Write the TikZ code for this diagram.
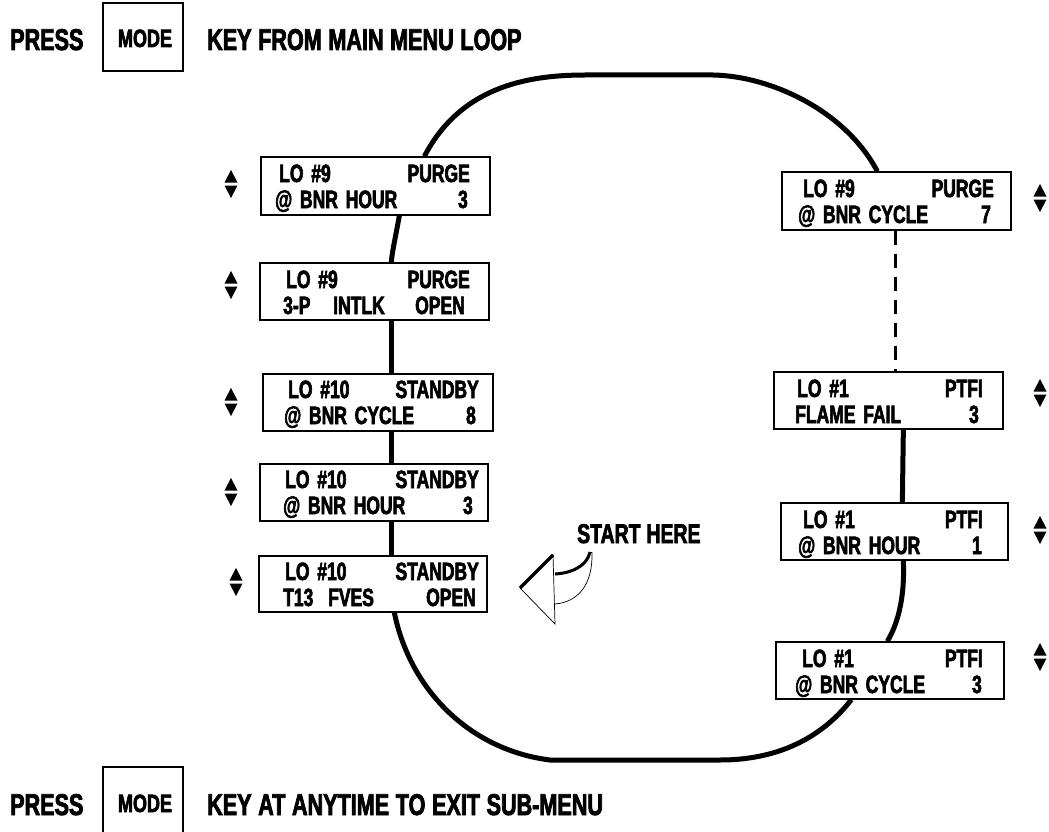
\documentclass[tikz,border=0pt]{standalone}
\usepackage{fontspec}
\setmainfont{Liberation Sans}[FakeStretch=0.72, FakeBold=2.5, WordSpace=1.1]
\newfontfamily\boxfont{Liberation Sans}[FakeStretch=0.70, FakeBold=2.5, WordSpace=1.6]
\begin{document}
\begin{tikzpicture}[x=1pt,y=-1pt,
  lcd/.style 2 args={draw, fill=white, line width=1.3, inner sep=0, minimum width=#1, minimum height=#2},
  keybox/.style={draw, line width=2, inner sep=0, minimum width=80, minimum height=68},
  txt/.style={inner sep=0, font=\boxfont\fontsize{25}{25}\selectfont\bfseries},
  head/.style={inner sep=0, font=\fontsize{30}{30}\selectfont\bfseries},
  keytxt/.style={inner sep=0, font=\fontsize{25}{25}\selectfont\bfseries},
  loop/.style={line width=5},
  dashloop/.style={line width=3, dash pattern=on 14 off 9},
  updown/.pic={\fill (-6.5,-1.5) -- (6.5,-1.5) -- (0,-14) -- cycle;
               \fill (-6.5,1.5) -- (6.5,1.5) -- (0,14) -- cycle;}
]
\useasboundingbox (0,0) rectangle (1049,832);
\clip (0,0) rectangle (1049,832);

% ---------- header / footer ----------
\node[head, anchor=base west] (p1) at (10,50) {PRESS};
\node[keybox] (m1) at (143,37) {};
\node[keytxt, anchor=base] (m1t) at (145,47) {MODE};
\node[head, anchor=base west] (k1) at (207,50) {KEY FROM MAIN MENU LOOP};

\node[head, anchor=base west] (p2) at (10,815) {PRESS};
\node[keybox, minimum height=80] (m2) at (143,807) {};
\node[keytxt, anchor=base] (m2t) at (145,812) {MODE};
\node[head, anchor=base west] (k2) at (207,815) {KEY AT ANYTIME TO EXIT SUB-MENU};

% ---------- boxes ----------
\node[lcd={229}{58}] (b1) at (375.5,186) {};
\node[lcd={229}{57}] (b2) at (374.5,291.5) {};
\node[lcd={230}{57}] (b3) at (378,402.5) {};
\node[lcd={228}{57}] (b4) at (374,492.5) {};
\node[lcd={228}{56}] (b5) at (373,584) {};
\node[lcd={229}{58}] (r1) at (896.5,201) {};
\node[lcd={229}{57}] (r2) at (888.5,400.5) {};
\node[lcd={227}{57}] (r3) at (894.5,531.5) {};
\node[lcd={228}{57}] (r4) at (890,670.5) {};

% ---------- loop connectors ----------
\draw[loop] ([xshift=164]b1.north west) .. controls (460,88) and (525,75) .. (585,75)
   -- (713,75) .. controls (770,76) and (845,110) .. ([xshift=96]r1.north west);
\draw[dashloop] ([xshift=114]r1.south west) -- ([xshift=122]r2.north west);
\draw[loop] ([xshift=130]r2.south west) -- ([xshift=122]r3.north west);
\draw[loop] ([xshift=123]r3.south west) .. controls (905,600) and (897,625) .. ([xshift=112]r4.north west);
\draw[loop] ([xshift=76]r4.south west) .. controls (820,740) and (775,760) .. (720,760)
   -- (550,760) .. controls (470,750) and (410,690) .. ([xshift=136]b5.south west);
\draw[loop] ([xshift=133]b5.north west) -- ([xshift=132]b4.south west);
\draw[loop] ([xshift=132]b4.north west) -- ([xshift=129]b3.south west);
\draw[loop] ([xshift=129]b3.north west) -- ([xshift=132]b2.south west);
\draw[loop] ([xshift=132]b2.north west) .. controls (392,252) and (395,240) .. ([xshift=139]b1.south west);

% ---------- box texts ----------
\node[txt, anchor=base west] (b1a) at (279,182) {LO \#9};
\node[txt, anchor=base east] (b1b) at (470,182) {PURGE};
\node[txt, anchor=base west] (b1c) at (275,208) {@ BNR HOUR};
\node[txt, anchor=base east] (b1d) at (468,208) {3};

\node[txt, anchor=base west] (b2a) at (286,288) {LO \#9};
\node[txt, anchor=base east] (b2b) at (470,288) {PURGE};
\node[txt, anchor=base west] (b2c) at (283,314) {3-P};
\node[txt, anchor=base west] (b2d) at (333,314) {INTLK};
\node[txt, anchor=base east] (b2e) at (465,314) {OPEN};

\node[txt, anchor=base west] (b3a) at (288,398) {LO \#10};
\node[txt, anchor=base east] (b3b) at (479,398) {STANDBY};
\node[txt, anchor=base west] (b3c) at (284,424) {@ BNR CYCLE};
\node[txt, anchor=base east] (b3d) at (476,424) {8};

\node[txt, anchor=base west] (b4a) at (285,488) {LO \#10};
\node[txt, anchor=base east] (b4b) at (479,488) {STANDBY};
\node[txt, anchor=base west] (b4c) at (283,514) {@ BNR HOUR};
\node[txt, anchor=base east] (b4d) at (473,514) {3};

\node[txt, anchor=base west] (b5a) at (285,580) {LO \#10};
\node[txt, anchor=base east] (b5b) at (479,580) {STANDBY};
\node[txt, anchor=base west] (b5c) at (283,606) {T13};
\node[txt, anchor=base west] (b5d) at (328,606) {FVES};
\node[txt, anchor=base east] (b5e) at (476,606) {OPEN};

\node[txt, anchor=base west] (r1a) at (803,197) {LO \#9};
\node[txt, anchor=base east] (r1b) at (994,197) {PURGE};
\node[txt, anchor=base west] (r1c) at (798,223) {@ BNR CYCLE};
\node[txt, anchor=base east] (r1d) at (991,223) {7};

\node[txt, anchor=base west] (r2a) at (797,397) {LO \#1};
\node[txt, anchor=base east] (r2b) at (983,397) {PTFI};
\node[txt, anchor=base west] (r2c) at (795,423) {FLAME FAIL};
\node[txt, anchor=base east] (r2d) at (979,423) {3};

\node[txt, anchor=base west] (r3a) at (803,528) {LO \#1};
\node[txt, anchor=base east] (r3b) at (983,528) {PTFI};
\node[txt, anchor=base west] (r3c) at (798,554) {@ BNR HOUR};
\node[txt, anchor=base east] (r3d) at (982,554) {1};

\node[txt, anchor=base west] (r4a) at (802,667) {LO \#1};
\node[txt, anchor=base east] (r4b) at (983,667) {PTFI};
\node[txt, anchor=base west] (r4c) at (795,693) {@ BNR CYCLE};
\node[txt, anchor=base east] (r4d) at (982,693) {3};

% ---------- up/down key symbols ----------
\pic at (231,184) {updown};
\pic at (231,285) {updown};
\pic at (231,402) {updown};
\pic at (231,492) {updown};
\pic at (236,582) {updown};
\pic at (1040,198) {updown};
\pic at (1040,393) {updown};
\pic at (1040,530) {updown};
\pic at (1040,657) {updown};

% ---------- START HERE ----------
\node[inner sep=0, anchor=base west, font=\fontsize{27}{27}\selectfont\bfseries] (start) at (577,543) {START HERE};
\draw[line width=0.7] (520,588) -- (553,555) -- (555,624) -- cycle;
\draw[line width=0.7] (592,552) .. controls (593,585) and (578,602) .. (555,604);
\draw[line width=0.7] (590,552) -- (592,552);
\draw[line width=3.5] (520,588) -- (553,555);
\draw[line width=3] (555,574) .. controls (572,573) and (587,566) .. (590,552);
\end{tikzpicture}
\end{document}
